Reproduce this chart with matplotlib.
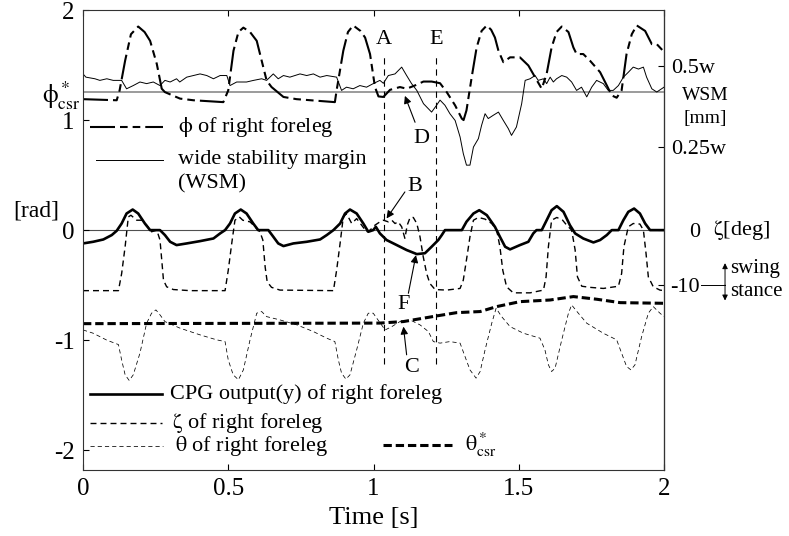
import numpy as np
import matplotlib
matplotlib.use('Agg')
import matplotlib.pyplot as plt
from matplotlib.transforms import blended_transform_factory

plt.rcParams['font.family'] = 'Liberation Serif'
plt.rcParams['mathtext.fontset'] = 'stix'
plt.rcParams['mathtext.default'] = 'rm'
plt.rcParams['axes.unicode_minus'] = False
plt.rcParams['lines.scale_dashes'] = False

#=======================
# data (time in s)

# phi of right foreleg [rad]
phi_t = [0, 0.116, 0.126, 0.145, 0.165, 0.19, 0.212, 0.231, 0.254, 0.271, 0.282, 0.334, 0.38, 0.483,
         0.5, 0.518, 0.535, 0.552, 0.575, 0.598, 0.615, 0.632, 0.649, 0.69, 0.735, 0.867,
         0.873, 0.896, 0.912, 0.93, 0.955, 0.971, 0.988, 1.005, 1.017, 1.034, 1.057, 1.091,
         1.114, 1.143, 1.172, 1.2, 1.229, 1.252, 1.281, 1.304, 1.31, 1.32, 1.338, 1.355,
         1.372, 1.39, 1.405, 1.418, 1.43, 1.447, 1.47, 1.504, 1.533, 1.556, 1.579, 1.596,
         1.613, 1.63, 1.648, 1.671, 1.688, 1.699, 1.722, 1.745, 1.78, 1.803, 1.82, 1.837,
         1.854, 1.871, 1.889, 1.906, 1.935, 1.958, 1.975, 2.0]
phi_v = [1.19, 1.18, 1.27, 1.54, 1.78, 1.85, 1.80, 1.72, 1.51, 1.285, 1.254, 1.195, 1.18, 1.163,
         1.27, 1.63, 1.80, 1.84, 1.80, 1.72, 1.54, 1.36, 1.30, 1.21, 1.19, 1.163,
         1.27, 1.63, 1.80, 1.86, 1.81, 1.75, 1.60, 1.30, 1.215, 1.21, 1.275, 1.30,
         1.285, 1.315, 1.35, 1.35, 1.335, 1.254, 1.133, 1.013, 1.0, 1.088, 1.39, 1.66,
         1.81, 1.86, 1.82, 1.75, 1.63, 1.526, 1.57, 1.57, 1.496, 1.39, 1.285, 1.42,
         1.66, 1.80, 1.85, 1.80, 1.66, 1.60, 1.60, 1.54, 1.435, 1.315, 1.224, 1.203,
         1.27, 1.60, 1.78, 1.86, 1.81, 1.69, 1.69, 1.62]
phi_csr = 1.254

# wide stability margin, in units of w
wsm_t = [0, 0.01, 0.041, 0.058, 0.082, 0.104, 0.133, 0.15, 0.173, 0.196, 0.219, 0.242, 0.265,
         0.282, 0.3, 0.322, 0.333, 0.357, 0.38, 0.403, 0.426, 0.449, 0.472, 0.495, 0.506,
         0.529, 0.563, 0.587, 0.615, 0.632, 0.655, 0.672, 0.69, 0.712, 0.747, 0.77, 0.793,
         0.816, 0.839, 0.873, 0.89, 0.907, 0.93, 0.953, 0.976, 0.999, 1.022, 1.034, 1.051,
         1.074, 1.097, 1.114, 1.131, 1.149, 1.172, 1.2, 1.217, 1.229, 1.246, 1.263, 1.281,
         1.298, 1.309, 1.32, 1.332, 1.344, 1.361, 1.372, 1.384, 1.395, 1.412, 1.43, 1.447,
         1.464, 1.475, 1.492, 1.51, 1.522, 1.539, 1.556, 1.567, 1.585, 1.596, 1.608, 1.619,
         1.63, 1.648, 1.665, 1.682, 1.699, 1.716, 1.734, 1.751, 1.768, 1.791, 1.808, 1.825,
         1.843, 1.86, 1.877, 1.894, 1.912, 1.929, 1.94, 1.958, 1.975, 2.0]
wsm_w = [0.476, 0.466, 0.461, 0.456, 0.461, 0.456, 0.456, 0.430, 0.440, 0.451, 0.446, 0.451, 0.440,
         0.456, 0.451, 0.461, 0.451, 0.466, 0.471, 0.476, 0.471, 0.461, 0.471, 0.471, 0.440,
         0.451, 0.451, 0.456, 0.461, 0.456, 0.476, 0.461, 0.471, 0.466, 0.476, 0.471, 0.476,
         0.466, 0.471, 0.466, 0.425, 0.435, 0.430, 0.440, 0.435, 0.446, 0.456, 0.447, 0.471,
         0.476, 0.497, 0.471, 0.446, 0.425, 0.384, 0.358, 0.379, 0.395, 0.379, 0.353, 0.332,
         0.281, 0.230, 0.194, 0.194, 0.250, 0.276, 0.317, 0.353, 0.338, 0.348, 0.358, 0.332,
         0.307, 0.286, 0.312, 0.384, 0.456, 0.461, 0.471, 0.456, 0.461, 0.446, 0.466, 0.451,
         0.461, 0.471, 0.466, 0.451, 0.425, 0.435, 0.405, 0.435, 0.456, 0.446, 0.425, 0.425,
         0.440, 0.466, 0.481, 0.497, 0.491, 0.497, 0.466, 0.430, 0.420, 0.435]

# CPG output y of right foreleg
cpg_t = [0, 0.035, 0.07, 0.099, 0.116, 0.133, 0.15, 0.171, 0.19, 0.213, 0.231, 0.265, 0.282,
         0.3, 0.322, 0.357, 0.403, 0.449, 0.472, 0.489, 0.506, 0.523, 0.543, 0.563, 0.586,
         0.603, 0.638, 0.655, 0.672, 0.69, 0.724, 0.77, 0.816, 0.839, 0.862, 0.885, 0.902,
         0.919, 0.942, 0.965, 0.982, 0.999, 1.008, 1.022, 1.045, 1.08, 1.114, 1.149, 1.177,
         1.2, 1.223, 1.235, 1.246, 1.304, 1.32, 1.344, 1.364, 1.39, 1.418, 1.435, 1.453,
         1.47, 1.504, 1.533, 1.55, 1.561, 1.579, 1.596, 1.613, 1.631, 1.654, 1.676, 1.694,
         1.722, 1.757, 1.78, 1.803, 1.82, 1.843, 1.86, 1.877, 1.897, 1.917, 1.935, 1.952, 2.0]
cpg_y = [-0.121, -0.106, -0.085, -0.045, -0.006, 0.06, 0.151, 0.187, 0.151, 0.06, 0, 0, -0.045,
         -0.106, -0.136, -0.121, -0.1, -0.076, -0.03, 0, 0.06, 0.151, 0.187, 0.151, 0.06,
         0, 0, -0.06, -0.121, -0.145, -0.121, -0.106, -0.085, -0.045, 0, 0.06, 0.151,
         0.187, 0.151, 0.06, -0.015, 0, 0.03, -0.03, -0.09, -0.136, -0.181, -0.218, -0.21,
         -0.151, -0.09, -0.045, 0, 0, 0.076, 0.151, 0.181, 0.136, 0.03, -0.06, -0.151,
         -0.175, -0.136, -0.106, -0.03, 0, 0, 0.09, 0.181, 0.218, 0.166, 0.045, -0.03,
         -0.076, -0.112, -0.09, -0.045, 0, 0, 0.09, 0.166, 0.196, 0.151, 0.06, 0, 0]

# zeta of right foreleg [deg]
zeta_t = [0, 0.122, 0.133, 0.145, 0.156, 0.165, 0.185, 0.202, 0.219, 0.236, 0.254, 0.265, 0.271,
          0.277, 0.288, 0.311, 0.368, 0.489, 0.5, 0.512, 0.523, 0.538, 0.55, 0.575, 0.592,
          0.609, 0.619, 0.627, 0.634, 0.649, 0.678, 0.862, 0.873, 0.885, 0.896, 0.907, 0.925,
          0.942, 0.959, 0.976, 0.988, 1.005, 1.022, 1.034, 1.051, 1.063, 1.074, 1.085, 1.097,
          1.108, 1.116, 1.126, 1.137, 1.149, 1.16, 1.171, 1.183, 1.194, 1.212, 1.252, 1.298,
          1.309, 1.32, 1.332, 1.344, 1.361, 1.384, 1.407, 1.424, 1.435, 1.445, 1.458, 1.481,
          1.539, 1.585, 1.594, 1.602, 1.613, 1.631, 1.651, 1.665, 1.682, 1.694, 1.702, 1.717,
          1.745, 1.791, 1.843, 1.854, 1.862, 1.877, 1.894, 1.917, 1.929, 1.938, 1.946, 1.963,
          1.986, 2.0]
zeta_deg = [-11.0, -11.0, -7.9, -3.0, 2.4, 2.7, 1.8, 1.8, 0.9, -0.3, 0, -1.8, -5.4,
            -9.1, -10.3, -10.8, -11.0, -11.0, -7.3, -2.4, 1.8, 2.4, 1.8, 1.5, 0.6,
            -0.3, -1.8, -6.7, -9.4, -10.4, -10.9, -11.0, -7.3, -2.4, 2.4, 3.0, 1.2,
            2.1, 0.9, -0.3, 0, 0.9, 1.5, 1.8, 1.5, 1.8, 1.2, 1.5, 0.6,
            -1.5, 0.9, 2.3, 2.3, 1.2, -1.2, -4.8, -7.9, -9.7, -10.8, -10.9, -10.6,
            -9.1, -5.4, -1.2, 1.8, 2.3, 2.0, 1.2, 0, -3.0, -7.3, -10.3, -11.4,
            -11.4, -10.9, -8.5, -3.0, 1.8, 2.3, 1.8, 0.9, 0, -3.6, -8.5, -10.2,
            -10.4, -10.6, -10.2, -7.9, -3.0, 0.6, 1.2, 1.1, 0, -4.2, -8.5, -10.3,
            -10.9, -11.0]

# theta of right foreleg [rad]
theta_t = [0, 0.035, 0.082, 0.122, 0.133, 0.145, 0.159, 0.173, 0.196, 0.219, 0.236, 0.251, 0.265,
           0.282, 0.334, 0.403, 0.46, 0.489, 0.5, 0.517, 0.535, 0.552, 0.575, 0.598, 0.615,
           0.632, 0.678, 0.736, 0.793, 0.839, 0.867, 0.879, 0.89, 0.905, 0.919, 0.942, 0.965,
           0.982, 0.999, 1.011, 1.04, 1.063, 1.091, 1.126, 1.16, 1.189, 1.206, 1.229, 1.263,
           1.298, 1.315, 1.332, 1.353, 1.367, 1.384, 1.407, 1.422, 1.441, 1.47, 1.516, 1.573,
           1.59, 1.602, 1.613, 1.625, 1.648, 1.671, 1.682, 1.705, 1.734, 1.791, 1.837, 1.854,
           1.871, 1.886, 1.9, 1.923, 1.946, 1.963, 1.986, 2.0]
theta_v = [-0.907, -0.937, -1.0, -1.04, -1.18, -1.315, -1.366, -1.315, -1.118, -0.846, -0.755, -0.725, -0.77,
           -0.831, -0.891, -0.952, -0.997, -1.013, -1.18, -1.315, -1.36, -1.27, -0.997, -0.755, -0.74,
           -0.786, -0.816, -0.861, -0.922, -0.982, -1.013, -1.18, -1.3, -1.354, -1.315, -1.088, -0.846,
           -0.755, -0.755, -0.8, -0.907, -0.877, -0.831, -0.816, -0.861, -0.922, -1.013, -1.027, -1.013,
           -1.027, -1.149, -1.27, -1.345, -1.285, -1.088, -0.846, -0.71, -0.786, -0.877, -0.937, -0.982,
           -1.088, -1.224, -1.285, -1.255, -0.997, -0.755, -0.68, -0.755, -0.846, -0.937, -0.997, -1.118,
           -1.239, -1.27, -1.224, -0.967, -0.755, -0.695, -0.755, -0.786]

# theta*_csr [rad]
tcsr_t = [0, 1.02, 1.103, 1.217, 1.286, 1.367, 1.424, 1.504, 1.608, 1.688, 1.768, 1.849, 2.0]
tcsr_v = [-0.85, -0.845, -0.831, -0.78, -0.75, -0.74, -0.695, -0.65, -0.635, -0.604, -0.628, -0.659, -0.665]

# event times
t_A = 1.036
t_E = 1.215


# right-hand scales drawn against the rad axis
def wsm_to_rad(w):
    return 0.02 + 2.94 * np.asarray(w)

def rad_to_wsm(r):
    return (np.asarray(r) - 0.02) / 2.94

def zeta_to_rad(z):
    return np.asarray(z) / 20.0

def rad_to_zeta(r):
    return np.asarray(r) * 20.0


#=======================
# styles
phi_style = dict(color='k', lw=1.5, linestyle=(0, (18, 3.6, 5.5, 3.6, 5.5, 3.6)))
wsm_style = dict(color='k', lw=0.7)
cpg_style = dict(color='k', lw=1.9)
zeta_style = dict(color='k', lw=1.0, linestyle=(0, (4.3, 2.9)))
theta_style = dict(color='k', lw=0.55, linestyle=(0, (3.0, 2.2)))
tcsr_style = dict(color='k', lw=2.2, linestyle=(0, (6.0, 2.8)))

fig = plt.figure(figsize=(7.89, 5.36), dpi=100)
ax = fig.add_axes([0.1052, 0.1231, 0.7364, 0.8582])
ax.set_xlim(0, 2)
ax.set_ylim(-2.18, 2.0)

ax.axhline(phi_csr, color='#8a8a8a', lw=1.2, zorder=1)
ax.axhline(0, color='#505050', lw=0.8, zorder=1)

ax.plot(phi_t, phi_v, **phi_style)
ax.plot(wsm_t, wsm_to_rad(wsm_w), **wsm_style)
ax.plot(cpg_t, cpg_y, **cpg_style)
ax.plot(zeta_t, zeta_to_rad(zeta_deg), **zeta_style)
ax.plot(theta_t, theta_v, **theta_style)
ax.plot(tcsr_t, tcsr_v, **tcsr_style)

ax.vlines([t_A, t_E], -1.22, 1.57, colors='k', lw=0.8, linestyles=[(0, (4.5, 3.5))])

# event letters and arrows
lbl = dict(fontsize=16, ha='center', va='center')
ax.text(t_A, 1.73, 'A', **lbl)
ax.text(t_E, 1.73, 'E', **lbl)
ax.text(1.165, 0.83, 'D', **lbl)
ax.text(1.143, 0.40, 'B', **lbl)
ax.text(1.103, -0.68, 'F', **lbl)
ax.text(1.131, -1.25, 'C', **lbl)
arr = dict(arrowstyle='-|>', color='k', lw=0.8, mutation_scale=11, shrinkA=0, shrinkB=0)
ax.annotate('', xy=(1.108, 1.22), xytext=(1.143, 0.98), arrowprops=arr)
ax.annotate('', xy=(1.045, 0.106), xytext=(1.108, 0.347), arrowprops=arr)
ax.annotate('', xy=(1.146, -0.227), xytext=(1.12, -0.574), arrowprops=arr)
ax.annotate('', xy=(1.103, -0.877), xytext=(1.114, -1.133), arrowprops=arr)

# axes, ticks
for sp in ax.spines.values():
    sp.set_color('#333333')
ax.set_xticks([0, 0.5, 1, 1.5, 2])
ax.set_xticklabels(['0', '0.5', '1', '1.5', '2'])
ax.set_yticks([-2, -1, 0, 1, 2])
ax.tick_params(direction='in', length=4, labelsize=18, top=True, right=False, pad=6)
ax.set_xlabel('Time [s]', fontsize=19, labelpad=5)

trans = blended_transform_factory(ax.transAxes, ax.transData)
ax.text(-0.081, 0.17, '[rad]', transform=trans, fontsize=17, ha='center', va='center')
ax.text(-0.005, 1.22, r'$\phi^*_{csr}$', transform=trans, fontsize=18, ha='right', va='center')

# WSM scale on the right
sec_w = ax.secondary_yaxis('right', functions=(rad_to_wsm, wsm_to_rad))
sec_w.set_yticks([0.25, 0.5])
sec_w.set_yticklabels(['0.25w', '0.5w'])
sec_w.tick_params(direction='in', length=4, labelsize=16, pad=5)
sec_w.spines['right'].set_color('#333333')
ax.text(1.071, 1.22, 'WSM', transform=trans, fontsize=14, ha='center', va='center')
ax.text(1.071, 1.01, '[mm]', transform=trans, fontsize=14, ha='center', va='center')

# zeta scale on the right
sec_z = ax.secondary_yaxis('right', functions=(rad_to_zeta, zeta_to_rad))
sec_z.set_yticks([0, -10])
sec_z.set_yticklabels(['0', '-10'])
sec_z.tick_params(direction='in', length=4, labelsize=16, pad=26)
for t in sec_z.get_yticklabels():
    t.set_ha('right')
sec_z.spines['right'].set_color('#333333')
ax.text(1.084, 0.0, r'$\zeta$[deg]', transform=trans, fontsize=16, ha='left', va='center')

# swing / stance marker
ax.plot([1.063, 1.105], [-0.5, -0.5], transform=trans, color='k', lw=0.7, clip_on=False)
ax.annotate('', xy=(1.105, -0.30), xytext=(1.105, -0.5), xycoords=trans,
            arrowprops=dict(arrowstyle='-|>', color='k', lw=0.7, mutation_scale=8, shrinkA=0, shrinkB=0))
ax.annotate('', xy=(1.105, -0.64), xytext=(1.105, -0.5), xycoords=trans,
            arrowprops=dict(arrowstyle='-|>', color='k', lw=0.7, mutation_scale=8, shrinkA=0, shrinkB=0))
ax.text(1.114, -0.35, 'swing', transform=trans, fontsize=15, ha='left', va='center')
ax.text(1.114, -0.56, 'stance', transform=trans, fontsize=15, ha='left', va='center')


# legend keys
def key(x0, x1, y, text, style, tx):
    ax.plot([x0, x1], [y, y], transform=ax.transAxes, clip_on=False, **style)
    ax.text(tx, y, text, transform=ax.transAxes, fontsize=16, ha='left', va='center')

key(0.012, 0.138, 0.746, r'$\phi$ of right foreleg', phi_style, 0.163)
key(0.022, 0.138, 0.674, 'wide stability margin', wsm_style, 0.163)
ax.text(0.163, 0.622, '(WSM)', transform=ax.transAxes, fontsize=16, ha='left', va='center')
key(0.012, 0.136, 0.165, 'CPG output(y) of right foreleg', cpg_style, 0.150)
key(0.012, 0.136, 0.103, r'$\zeta$ of right foreleg', zeta_style, 0.154)
key(0.012, 0.138, 0.052, r'$\theta$ of right foreleg', theta_style, 0.158)
key(0.516, 0.635, 0.054, r'$\theta^*_{csr}$', tcsr_style, 0.657)

fig.savefig('out.png', dpi=100)
